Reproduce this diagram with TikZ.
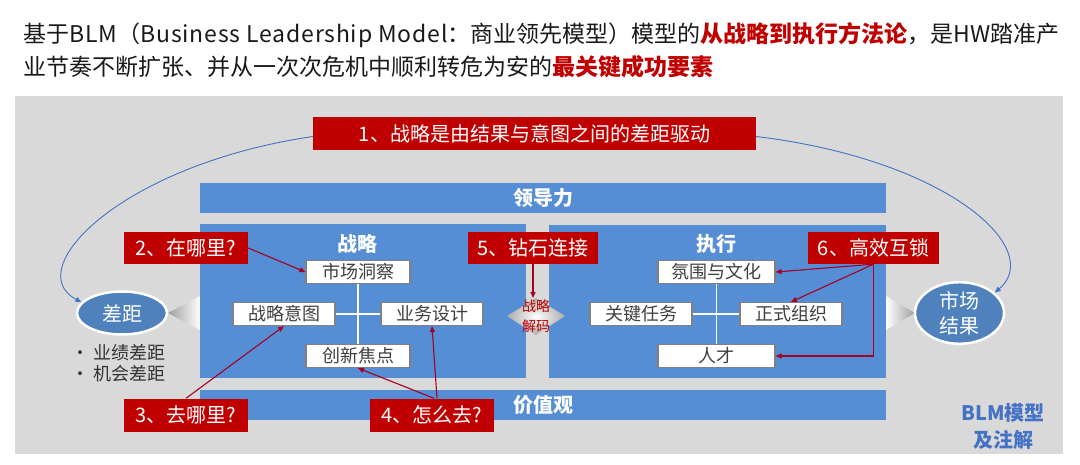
\documentclass[tikz,border=0pt]{standalone}
\usepackage{fontspec}
\setmainfont{Noto Sans CJK SC}
\usetikzlibrary{shapes.geometric}
\usetikzlibrary{arrows.meta}
\definecolor{bg_gray}{HTML}{D9D9D9}
\definecolor{bar_blue}{HTML}{558ED5}
\definecolor{ell_blue}{HTML}{4F81BD}
\definecolor{note_red}{HTML}{C00000}
\definecolor{line_red}{HTML}{A50021}
\definecolor{curve_blue}{HTML}{4472C4}
\definecolor{box_text}{HTML}{404040}
\newcommand{\pxfont}[1]{\fontsize{#1pt}{#1pt}\selectfont}
\tikzset{
  red_box/.style = {fill=note_red, text=white, inner sep=0pt,
    minimum height=33pt, font=\pxfont{20}},% encadre rouge, question
  blue_bar/.style = {fill=bar_blue, inner sep=0pt, text=white,
    font=\pxfont{20}\bfseries},% bande bleue
  white_box/.style = {draw=gray, line width=1.2pt, fill=white, text=box_text,
    inner sep=0pt, minimum height=23pt, font=\pxfont{18}},% element du modele
  gap_ell/.style = {ellipse, draw=white, line width=2.5pt, fill=ell_blue,
    text=white, inner sep=0pt},% ellipse bleue
  red_arrow/.style = {draw=line_red, line width=1.1pt,
    -{Triangle[length=6pt,width=5pt]}},
  blue_arrow/.style = {draw=curve_blue, line width=0.9pt,
    -{Triangle[length=6pt,width=5pt]}},
  cross_line/.style = {draw=white, line width=1.5pt}
}

\begin{document}
\begin{tikzpicture}[x=1pt, y=-1pt]
  \useasboundingbox (0,0) rectangle (1080,465);
  % titre
  \node [anchor=west, text=black!90, font=\pxfont{23}] (title1) at (20,35)
    {基于{\addfontfeatures{LetterSpace=3.5}BLM}（{\addfontfeatures{LetterSpace=3.5}Business Leadership Model}：商业领先模型）模型的\textcolor{note_red}{\bfseries 从战略到执行方法论}，是HW踏准产};
  \node [anchor=west, text=black!90, font=\pxfont{23}] (title2) at (20,67)
    {业节奏不断扩张、并从一次次危机中顺利转危为安的\textcolor{note_red}{\bfseries 最关键成功要素}};
  % fond
  \fill [bg_gray] (15,96) rectangle (1063,454);
  \shade [left color=gray!75, right color=white] (168,313) -- (200,296) -- (200,330) -- cycle;
  \shade [left color=white, right color=gray!75] (886,296) -- (915,313) -- (886,330) -- cycle;
  % bandes et blocs
  \node [blue_bar, minimum width=686pt, minimum height=30pt] (lead) at (543,198) {领导力};
  \node [blue_bar, minimum width=326pt, minimum height=154pt] (strat) at (363,301) {};
  \node [blue_bar, minimum width=337pt, minimum height=153pt] (exec) at (717.5,301.5) {};
  \node [blue_bar, minimum width=686pt, minimum height=30pt] (values) at (543,405) {价值观};
  \node [blue_bar] (strat_title) at (357,244) {战略};
  \node [blue_bar] (exec_title) at (716.5,244) {执行};
  % strategie
  \node [white_box, minimum width=104pt] (mkt) at (358,272) {市场洞察};
  \node [white_box, minimum width=102pt] (intent) at (284,314) {战略意图};
  \node [white_box, minimum width=102pt] (design) at (432,314) {业务设计};
  \node [white_box, minimum width=104pt] (innov) at (358,356) {创新焦点};
  \draw [cross_line] (mkt.south) -- (innov.north);
  \draw [cross_line] (intent.east) -- (design.west);
  % execution
  \node [white_box, minimum width=117pt] (culture) at (716.5,272) {氛围与文化};
  \node [white_box, minimum width=102pt] (task) at (641,314) {关键任务};
  \node [white_box, minimum width=102pt] (formal) at (791,314) {正式组织};
  \node [white_box, minimum width=117pt] (talent) at (716.5,356) {人才};
  \draw [cross_line] (culture.south) -- (talent.north);
  \draw [cross_line] (task.east) -- (formal.west);
  % decodage
  \shade [inner color=white, outer color=gray!65] (507,316) -- (536,298) -- (565,316) -- (536,335) -- cycle;
  \coordinate (d_top) at (536,298);
  \node [align=center, text=note_red, font=\fontsize{14pt}{20pt}\selectfont] (decode) at (536,316) {战略\\解码};
  % ecart et resultat
  \node [gap_ell, minimum width=90pt, minimum height=43pt, font=\pxfont{20}] (gap) at (122,313) {差距};
  \node [gap_ell, minimum width=89pt, minimum height=57pt, align=center,
    font=\fontsize{20pt}{25pt}\selectfont] (res) at (959.5,313) {市场\\结果};
  \node [anchor=west, align=left, text=black!80, font=\fontsize{18pt}{21.5pt}\selectfont] (gap_list) at (68,363)
    {•\hspace{4pt}业绩差距\\•\hspace{4pt}机会差距};
  \node [align=center, text=curve_blue, font=\fontsize{20pt}{27pt}\selectfont\bfseries] (tag) at (1003,426) {BLM模型\\及注解};
  % annotations
  \node [red_box, minimum width=443pt] (r1) at (534.5,133.5) {1、战略是由结果与意图之间的差距驱动};
  \node [red_box, minimum width=124pt, minimum height=32pt] (r2) at (186,248) {2、在哪里?};
  \node [red_box, minimum width=124pt] (r3) at (186,415) {3、去哪里?};
  \node [red_box, minimum width=124pt] (r4) at (432,415) {4、怎么去?};
  \node [red_box, minimum width=130pt, minimum height=32pt] (r5) at (533,248) {5、钻石连接};
  \node [red_box, minimum width=131pt, minimum height=32pt] (r6) at (873.5,248) {6、高效互锁};
  % fleches
  \draw [blue_arrow] ([yshift=-3pt]r1.west) .. controls (120,165) and (20,270) .. (gap.165);
  \draw [blue_arrow] ([yshift=-3pt]r1.east) .. controls (950,160) and (1045,250) .. (res.30);
  \draw [red_arrow] (r2.east) -- (mkt.west);
  \draw [red_arrow] (r3.north) -- (intent.south);
  \draw [red_arrow] ([xshift=5pt]r4.north) -- (design.south);
  \draw [red_arrow] ([xshift=2pt]r4.north) -- (innov.south);
  \draw [red_arrow] (r5.south) -- (r5.south |- d_top);
  \draw [red_arrow] (r6.south) -- (culture.east);
  \draw [red_arrow] (r6.south) -- (formal.north);
  \draw [red_arrow] (r6.south) |- (talent.east);
\end{tikzpicture}
\end{document}
